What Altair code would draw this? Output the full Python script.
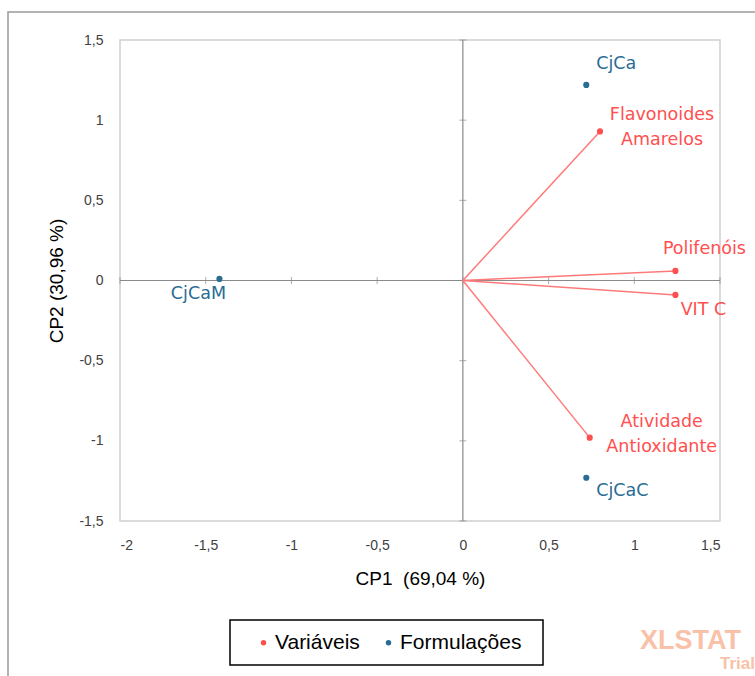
import altair as alt
import pandas as pd

# Variables (loadings) on the first two principal components
var_names = ["Flavonoides\nAmarelos", "Polifenóis", "VIT C", "Atividade\nAntioxidante"]
var_cp1 = [0.80, 1.24, 1.24, 0.74]
var_cp2 = [0.93, 0.06, -0.09, -0.98]

# Formulation scores
obs_names = ["CjCa", "CjCaC", "CjCaM"]
obs_cp1 = [0.72, 0.72, -1.42]
obs_cp2 = [1.22, -1.23, 0.01]

x_ticks = [-2, -1.5, -1, -0.5, 0, 0.5, 1, 1.5]
y_ticks = [-1.5, -1, -0.5, 0, 0.5, 1, 1.5]

groups = ["Variáveis", "Formulações"]
RED = "#ff4f4f"
LINE_RED = "#ff7a7a"
BLUE = "#2a6c93"
GREY = "#8a8a8a"

W, H = 600, 481
FONT_LBL = "DejaVu Sans"
FONT_AX = "Liberation Sans Narrow, Liberation Sans"

vars_df = pd.DataFrame({"nome": var_names, "cp1": var_cp1, "cp2": var_cp2,
                        "grupo": groups[0], "x0": 0.0, "y0": 0.0})
obs_df = pd.DataFrame({"nome": obs_names, "cp1": obs_cp1, "cp2": obs_cp2,
                       "grupo": groups[1]})
pts_df = pd.concat([vars_df[["nome", "cp1", "cp2", "grupo"]], obs_df], ignore_index=True)

lab_expr = "replace(toString(datum.value), '.', ',')"
xs = alt.Scale(domain=[-2, 1.5], nice=False, zero=False)
ys = alt.Scale(domain=[-1.5, 1.5], nice=False, zero=False)
X = alt.X("cp1:Q", scale=xs, title="CP1\u00a0\u00a0(69,04 %)",
          axis=alt.Axis(values=x_ticks, labelExpr=lab_expr, grid=False, domain=False,
                        ticks=False, labelPadding=17, titlePadding=17))
Y = alt.Y("cp2:Q", scale=ys, title="CP2 (30,96 %)",
          axis=alt.Axis(values=y_ticks, labelExpr=lab_expr, grid=False, domain=False,
                        ticks=False, labelPadding=17, titlePadding=12))

one = pd.DataFrame({"k": [0]})

# outer frame around the whole figure
frame = alt.Chart(one).mark_rect(fill=None, stroke="#9a9a9a", strokeWidth=1.5).encode(
    x=alt.value(-112), x2=alt.value(W + 60), y=alt.value(-28), y2=alt.value(H + 200))

# axis lines through the origin
zero_v = alt.Chart(one).mark_rule(color=GREY, strokeWidth=1.2).encode(x=alt.datum(0, scale=xs))
zero_h = alt.Chart(one).mark_rule(color=GREY, strokeWidth=1.2).encode(y=alt.datum(0, scale=ys))
tick_y = alt.Chart(pd.DataFrame({"v": y_ticks})).mark_tick(
    orient="horizontal", color=GREY, size=7, thickness=1).encode(
    x=alt.datum(0, scale=xs), y=alt.Y("v:Q", scale=ys))
tick_x = alt.Chart(pd.DataFrame({"v": x_ticks})).mark_tick(
    orient="vertical", color=GREY, size=7, thickness=1).encode(
    x=alt.X("v:Q", scale=xs), y=alt.datum(0, scale=ys))

# loading vectors
vectors = alt.Chart(vars_df).mark_rule(color=LINE_RED, strokeWidth=1.5).encode(
    x=alt.X("x0:Q", scale=xs), y=alt.Y("y0:Q", scale=ys), x2="cp1:Q", y2="cp2:Q")

points = alt.Chart(pts_df).mark_circle(size=38, opacity=1).encode(
    x=X, y=Y,
    color=alt.Color("grupo:N", scale=alt.Scale(domain=groups, range=[RED, BLUE]),
                    legend=alt.Legend(title=None, orient="none", direction="horizontal",
                                      legendX=133, legendY=592, padding=0,
                                      symbolType="circle", symbolSize=30,
                                      labelFont=FONT_AX, labelFontSize=21,
                                      labelColor="#000000", labelOffset=1,
                                      columnPadding=18)))

# point labels: (name, dx, dy, align, colour)
label_specs = [
    ("CjCa", 10, -21, "left", BLUE),
    ("CjCaC", 10, 13, "left", BLUE),
    ("CjCaM", -21, 15, "center", BLUE),
    ("Flavonoides\nAmarelos", 62, -16, "center", RED),
    ("Polifenóis", 29, -22, "center", RED),
    ("VIT C", 28, 15, "center", RED),
    ("Atividade\nAntioxidante", 72, -16, "center", RED),
]
labels = []
for name, dx, dy, align, col in label_specs:
    labels.append(
        alt.Chart(pts_df).transform_filter(alt.datum.nome == name).mark_text(
            dx=dx, dy=dy, align=align, baseline="middle", font=FONT_LBL,
            fontSize=17.5, color=col, lineBreak="\n", lineHeight=25).encode(
            x=alt.X("cp1:Q", scale=xs), y=alt.Y("cp2:Q", scale=ys), text="nome:N"))

# legend box
legend_box = alt.Chart(one).mark_rect(fill=None, stroke="#000000", strokeWidth=1.5).encode(
    x=alt.value(110), x2=alt.value(423), y=alt.value(580), y2=alt.value(625))

# watermark
wm = alt.Chart(one).mark_text(text="XLSTAT", font="Liberation Sans", fontWeight="bold",
                              fontSize=27, color="#f9c2a8", align="left",
                              baseline="middle").encode(x=alt.value(520), y=alt.value(601))
wm2 = alt.Chart(one).mark_text(text="Trial", font="Liberation Sans", fontWeight="bold",
                               fontSize=17, color="#f9c2a8", align="left",
                               baseline="middle").encode(x=alt.value(600), y=alt.value(624))

chart = alt.layer(frame, zero_v, zero_h, tick_y, tick_x, vectors, points, *labels,
                  legend_box, wm, wm2).properties(
    width=W, height=H,
    autosize=alt.AutoSizeParams(type="none"),
    padding={"left": 120, "top": 40, "right": 35, "bottom": 155},
    background="white",
).configure_view(stroke="#d0d0d0", strokeWidth=1.5).configure_axis(
    labelFont=FONT_AX, labelFontSize=14, labelColor="#404040",
    titleFont=FONT_AX, titleFontSize=19, titleColor="#000000", titleFontWeight="normal")

chart.save("out.html", embed_options={"renderer": "svg", "actions": False})
